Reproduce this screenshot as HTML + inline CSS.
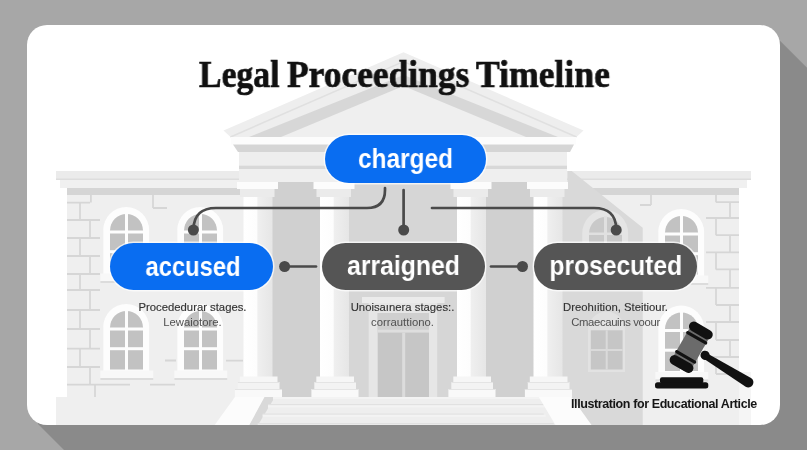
<!DOCTYPE html>
<html><head><meta charset="utf-8">
<style>
*{margin:0;padding:0;box-sizing:border-box}
html,body{width:807px;height:450px;overflow:hidden;background:#a7a7a7}
body{position:relative;font-family:"Liberation Sans",sans-serif}
#bg{position:absolute;left:0;top:0}
.t{position:absolute;white-space:nowrap;will-change:transform}
.title{top:52px;font-family:"Liberation Serif",serif;font-weight:bold;font-size:38.5px;color:#111;-webkit-text-stroke:0.7px #111;transform-origin:0 0}
.pill{position:absolute;height:47px;border-radius:24px;color:#fff;font-weight:bold;font-size:27px;display:flex;align-items:center;justify-content:center;box-shadow:0 0 0 1.5px rgba(255,255,255,0.7)}
.pill span{display:inline-block;transform:scaleX(0.925);will-change:transform}
.blue{background:#096df1}
.dark{background:#555555}
.desc{font-size:11.3px;color:#333;text-align:center;-webkit-text-stroke:0.15px #333}
.desc2{font-size:11.3px;color:#505050;text-align:center}
.cap{left:571px;top:396.6px;font-size:12.5px;font-weight:bold;color:#161616;letter-spacing:-0.4px}
</style></head><body>
<svg id="bg" width="807" height="450" viewBox="0 0 807 450">
<defs>
<clipPath id="card"><rect x="27" y="25" width="753" height="400" rx="20"/></clipPath>
<linearGradient id="col" x1="0" x2="1" y1="0" y2="0">
<stop offset="0" stop-color="#ffffff"/><stop offset="0.45" stop-color="#fdfdfd"/><stop offset="0.5" stop-color="#efefef"/><stop offset="1" stop-color="#e6e6e6"/>
</linearGradient>
</defs>
<!-- long shadow -->
<polygon points="760,40.7 780,40.7 807,67.7 807,450 64,450 38,424 38,300 760,300" fill="#8a8a8a"/>
<rect x="27" y="25" width="753" height="400" rx="20" fill="#ffffff"/>
<g clip-path="url(#card)">
<!-- ground -->
<rect x="56" y="397" width="683" height="30" fill="#efefef"/>
<rect x="739" y="372" width="12" height="55" fill="#f5f5f5"/>
<!-- left wing -->
<rect x="56" y="171" width="184" height="8" fill="#ebebeb"/>
<rect x="56" y="178.5" width="184" height="1.5" fill="#dddddd"/>
<rect x="60" y="180" width="180" height="8" fill="#f0f0f0"/>
<rect x="67" y="188" width="173" height="7" fill="#d5d5d5"/>
<rect x="67" y="195" width="177" height="202" fill="#efefef"/>
<!-- right wing -->
<rect x="566" y="171" width="185" height="8" fill="#ebebeb"/>
<rect x="566" y="178.5" width="185" height="1.5" fill="#dddddd"/>
<rect x="566" y="180" width="181" height="8" fill="#f0f0f0"/>
<rect x="566" y="188" width="173" height="7" fill="#d5d5d5"/>
<rect x="566" y="195" width="173" height="215" fill="#efefef"/>
<polygon points="567.5,171 571.7,171 642.7,227.8 642.7,425 562,425 562,182 567.5,182" fill="#d9d9d9"/>
<!-- brick lines left -->
<g stroke="#d6d6d6" stroke-width="1.8" fill="none">
<path d="M67 202.6H90 M90.9 195V202.6 M67 220H100 M80 202.6V220 M67 238H100 M90 220V238 M67 256H100 M80 238V256 M67 274H100 M90 256V274 M67 290H100 M80 274V290 M67 310H100 M90 290V310 M67 329H100 M80 310V329 M67 348.6H100 M90 329V348.6 M67 367H100 M80 348.6V367 M67 384.7H130 M90 367V384.7 M95 384.7V397"/>
<path d="M153 195V208 M153 208H167 M150 384.7H175 M226 360.6H243 M165 360.5H176"/>
</g>
<!-- brick lines right -->
<g stroke="#d6d6d6" stroke-width="1.8" fill="none">
<path d="M716 202.2H739 M716 195V202.2 M706 218H739 M730 202.2V218 M716 235.2H739 M716 218V235.2 M706 252.3H739 M730 235.2V252.3 M716 269.4H739 M716 252.3V269.4 M706 287.8H739 M730 269.4V287.8 M716 305H739 M716 287.8V305 M706 322H739 M730 305V322 M716 340H739 M716 322V340 M706 357H739 M730 340V357 M716 374H739 M716 357V374"/>
<path d="M651 195V205 M640 205H651"/>
</g>
<!-- windows left -->
<g id="winL">
<path d="M103.3 281V230 A22.9 22.9 0 0 1 149.1 230 V281Z" fill="#fdfdfd"/>
<path d="M110 272.5V230.5 A16.5 16.5 0 0 1 143 230.5 V272.5Z" fill="#c2c2c2"/>
<rect x="125" y="213" width="3" height="60" fill="#fdfdfd"/>
<rect x="110" y="230.5" width="33" height="3" fill="#fdfdfd"/>
<rect x="110" y="250.2" width="33" height="3" fill="#fdfdfd"/>
<rect x="100.4" y="273.5" width="52.8" height="7.5" fill="#f8f8f8"/>
<rect x="100.4" y="281" width="52.8" height="2" fill="#dcdcdc"/>
</g>
<use href="#winL" x="74"/>
<use href="#winL" x="0" y="97"/>
<use href="#winL" x="74" y="97"/>
<!-- windows right -->
<use href="#winL" x="555" y="2"/>
<use href="#winL" x="555" y="98.5"/>
<path d="M582.3 284V233 A22.9 22.9 0 0 1 628.1 233 V284Z" fill="#e5e5e5"/>
<path d="M589 275.5V233.5 A16.5 16.5 0 0 1 622 233.5 V275.5Z" fill="#c9c9c9"/>
<rect x="604" y="216" width="3" height="60" fill="#e0e0e0"/>
<rect x="589" y="232.5" width="33" height="2.5" fill="#e0e0e0"/>
<rect x="589" y="253.2" width="33" height="2.5" fill="#e0e0e0"/>
<path d="M588 330V330 A18.5 18.5 0 0 1 625 330 V372H588Z" fill="#e2e2e2"/>
<rect x="590.8" y="330.3" width="31.8" height="39.2" fill="#c6c6c6"/>
<rect x="605.7" y="330.3" width="2" height="39.2" fill="#dadada"/>
<rect x="590.8" y="349" width="31.8" height="2" fill="#dadada"/>

<!-- pediment -->
<polygon points="230.5,137 223.5,130.5 403.5,52.3 583.5,130.5 576.5,137" fill="#eeeeee"/>
<polyline points="230.5,137 403.5,61.5 576.5,137" fill="none" stroke="#e0e0e0" stroke-width="1.6"/>
<polygon points="249,137 403.5,75 558,137" fill="#d7d7d7"/>
<polygon points="281,137 403.5,86 526,137" fill="#efefef"/>
<!-- entablature -->
<rect x="231" y="137" width="345" height="7.5" fill="#fcfcfc"/>
<polygon points="233,144.5 574,144.5 570,152 238,152" fill="#d5d5d5"/>
<rect x="239" y="152" width="328" height="13.5" fill="#eeeeee"/>
<rect x="239" y="165.5" width="328" height="3.5" fill="#d8d8d8"/>
<rect x="239" y="169" width="328" height="13" fill="#efefef"/>
<!-- portico recess -->
<rect x="270" y="182" width="265" height="215" fill="#d0d0d0"/>
<rect x="349" y="182" width="108" height="215" fill="#d6d6d6"/>
<!-- door -->
<rect x="362" y="297" width="82.6" height="6" fill="#ebebeb"/>
<rect x="368.7" y="303" width="68.5" height="94" fill="#e6e6e6"/>
<rect x="377.7" y="313" width="51.3" height="84" fill="#c6c6c6"/>
<rect x="377.7" y="313" width="51.3" height="16.6" fill="#cfcfcf"/>
<rect x="377.7" y="329.6" width="51.3" height="3" fill="#dedede"/>
<rect x="402.2" y="332.6" width="3" height="64.4" fill="#dcdcdc"/>
<!-- columns -->
<g id="colA">
<rect x="243.5" y="197" width="29" height="180" fill="url(#col)"/>
<rect x="237" y="182" width="41" height="7" fill="#fcfcfc"/>
<rect x="240" y="189" width="34.5" height="8" fill="#ebebeb"/>
<rect x="239.8" y="376.5" width="37.7" height="5.5" fill="#f6f6f6"/>
<rect x="237.8" y="382" width="41.7" height="7" fill="#f3f3f3"/>
<rect x="234.9" y="389" width="47.1" height="8" fill="#f9f9f9"/>
<rect x="237.8" y="382" width="41.7" height="1" fill="#e4e4e4"/>
<rect x="234.9" y="389" width="47.1" height="1" fill="#e4e4e4"/>
</g>
<use href="#colA" x="76.5"/>
<use href="#colA" x="213.5"/>
<use href="#colA" x="290"/>
<!-- steps -->
<polygon points="264,397 275,397 258,425 249,425" fill="#d9d9d9"/>
<polygon points="273,397 540,397 554,425 257.8,425 257.8,423.5 262.7,423.5 262.7,414 268,414 268,404.5 273,404.5" fill="#eeeeee"/>
<g fill="#e1e1e1"><rect x="268" y="404" width="276" height="1.3"/><rect x="262.7" y="413.5" width="281" height="1.3"/><rect x="257.8" y="423" width="296" height="1.3"/></g>
<g fill="#f3f3f3"><rect x="273" y="397" width="268" height="2"/><rect x="268" y="405.3" width="277" height="2"/><rect x="262.7" y="414.8" width="283" height="2"/></g>
<polygon points="234.9,397 264.5,397 249.3,425 214.7,425" fill="#fcfcfc"/>
<polygon points="538.8,397 571.5,397 591.5,425 555.5,425" fill="#fcfcfc"/>
<!-- connectors -->
<g stroke="#4a4a4a" stroke-width="2.7" fill="none" stroke-linecap="round">
<path d="M385 188 V190 Q385 208 367 208 H216 Q194 208 193.5 229"/>
<path d="M403.6 190 V229"/>
<path d="M432 208 H594 Q616 208 616.2 229"/>
<path d="M285 266.5 H316"/>
<path d="M491 266.5 H522"/>
</g>
<g fill="#4a4a4a">
<circle cx="193.4" cy="230" r="5.5"/>
<circle cx="403.7" cy="230" r="5.5"/>
<circle cx="616.2" cy="230" r="5.5"/>
<circle cx="284.6" cy="266.5" r="5.5"/>
<circle cx="522.5" cy="266.5" r="5.5"/>
</g>
<!-- gavel -->
<g fill="#111">
<rect x="660" y="377.2" width="43.3" height="6" rx="2"/>
<rect x="655" y="382.2" width="53.3" height="6.2" rx="2.5"/>
<g transform="translate(691.2 347.3) rotate(30)">
<path transform="rotate(1.5)" d="M15 -3.1 L67 -5.1 A5.1 5.1 0 0 1 67 5.1 L15 3.1Z"/>
<circle cx="16" cy="0" r="4.6"/>
<rect x="-11" y="-15" width="22" height="30" fill="#6b6b6b"/>
<rect x="-13" y="-24.2" width="26" height="9.8" rx="4.9"/>
<rect x="-13" y="14.4" width="26" height="9.8" rx="4.9"/>
<rect x="-12" y="-12.6" width="24" height="3.2" rx="1.6"/>
<rect x="-12" y="9.4" width="24" height="3.2" rx="1.6"/>
</g>
</g>
</g>
</svg>
<div class="t title" style="left:199px;transform:scaleX(0.875)">Legal</div>
<div class="t title" style="left:286.8px;transform:scaleX(0.92)">Proceedings</div>
<div class="t title" style="left:476px;transform:scaleX(0.925)">Timeline</div>
<div class="pill blue" style="left:325px;top:135px;width:161px;height:48px"><span style="transform:scaleX(0.905)">charged</span></div>
<div class="pill blue" style="left:110px;top:243px;width:163px"><span style="transform:scaleX(0.88);margin-left:3px;margin-top:1px">accused</span></div>
<div class="pill dark" style="left:322px;top:243px;width:163px"><span style="transform:scaleX(0.917)">arraigned</span></div>
<div class="pill dark" style="left:534px;top:243px;width:163px"><span style="transform:scaleX(0.912)">prosecuted</span></div>
<div class="t desc" style="left:100px;top:301px;width:185px">Procededurar stages.</div>
<div class="t desc2" style="left:100px;top:315.5px;width:185px">Lewaiotore.</div>
<div class="t desc" style="left:310px;top:301px;width:185px">Unoisaınera stages:.</div>
<div class="t desc2" style="left:310px;top:315.5px;width:185px">corrauttiono.</div>
<div class="t desc" style="left:523px;top:301px;width:185px">Dreohıition, Steitiour.</div>
<div class="t desc2" style="left:523px;top:315.5px;width:185px;letter-spacing:-0.35px">Cmaecauins voour</div>
<div class="t cap">Illustration for Educational Article</div>
</body></html>
